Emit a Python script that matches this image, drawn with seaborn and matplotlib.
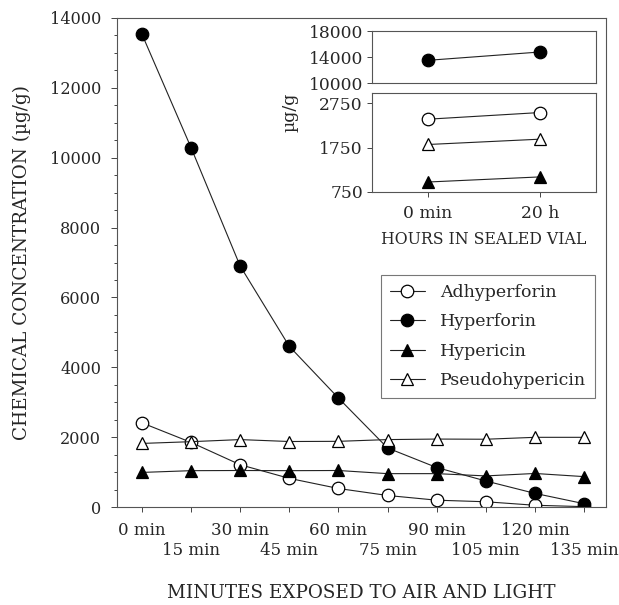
import matplotlib
matplotlib.use("Agg")
import matplotlib.pyplot as plt
import seaborn as sns
import pandas as pd
from matplotlib.ticker import MultipleLocator, FixedLocator, FixedFormatter

# main panel: minutes exposed to air and light
minutes = [0, 15, 30, 45, 60, 75, 90, 105, 120, 135]
minute_labels = ["0 min", "15 min", "30 min", "45 min", "60 min",
                 "75 min", "90 min", "105 min", "120 min", "135 min"]
adhyperforin = [2410, 1850, 1210, 820, 530, 330, 195, 150, 50, 10]
hyperforin = [13540, 10290, 6900, 4600, 3120, 1690, 1130, 745, 390, 95]
hypericin = [990, 1040, 1045, 1040, 1045, 955, 955, 890, 960, 870]
pseudohypericin = [1820, 1870, 1930, 1875, 1880, 1930, 1945, 1940, 1995, 1995]

# inset: hours in sealed vial
vial_labels = ["0 min", "20 h"]
vial_hyperforin = [13490, 14770]
vial_adhyperforin = [2390, 2540]
vial_pseudohypericin = [1820, 1940]
vial_hypericin = [975, 1090]

sns.set_theme(style="white")
plt.rcParams["font.family"] = ["DejaVu Serif"]
plt.rcParams["font.size"] = 12

W, H = 619, 605
fig = plt.figure(figsize=(W / 100, H / 100), dpi=100)
ax = fig.add_axes([117 / W, 1 - 507 / H, (606 - 117) / W, (507 - 18) / H])

styles = {
    "Adhyperforin": dict(marker="o", markerfacecolor="white"),
    "Hyperforin": dict(marker="o", markerfacecolor="black"),
    "Hypericin": dict(marker="^", markerfacecolor="black"),
    "Pseudohypericin": dict(marker="^", markerfacecolor="white"),
}
line_kw = dict(color="#222222", linewidth=0.8, markersize=9,
               markeredgecolor="black", markeredgewidth=0.9)
main_series = {
    "Adhyperforin": adhyperforin,
    "Hyperforin": hyperforin,
    "Hypericin": hypericin,
    "Pseudohypericin": pseudohypericin,
}
df = pd.DataFrame({"minutes": minutes, **main_series})

for name in main_series:
    sns.lineplot(data=df, x="minutes", y=name, ax=ax, label=name,
                 **line_kw, **styles[name])

ax.set_xlim(-7.6, 141.7)
ax.set_ylim(0, 14000)
# alternate x labels on two rows: even ones as major ticks, odd ones as minor
ax.xaxis.set_major_locator(FixedLocator(minutes[0::2]))
ax.xaxis.set_major_formatter(FixedFormatter(minute_labels[0::2]))
ax.xaxis.set_minor_locator(FixedLocator(minutes[1::2]))
ax.xaxis.set_minor_formatter(FixedFormatter(minute_labels[1::2]))
ax.yaxis.set_major_locator(MultipleLocator(2000))
ax.yaxis.set_minor_locator(MultipleLocator(500))
ax.tick_params(axis="both", which="both", direction="out", color="#444444",
               width=0.7)
ax.tick_params(axis="x", which="both", length=3.5, labelsize=12, bottom=True)
ax.tick_params(axis="x", which="major", pad=7)
ax.tick_params(axis="x", which="minor", pad=22)
ax.tick_params(axis="y", which="major", length=4.5, pad=7, labelsize=11.6,
               left=True)
ax.tick_params(axis="y", which="minor", length=2.5, left=True)
for sp in ax.spines.values():
    sp.set_color("#555555")
    sp.set_linewidth(0.8)
ax.set_xlabel("MINUTES EXPOSED TO AIR AND LIGHT", fontsize=13.2)
ax.set_ylabel("CHEMICAL CONCENTRATION (µg/g)", fontsize=13.2)
ax.xaxis.set_label_coords(0.5, -(593 - 507) / 489)
ax.xaxis.label.set_va("center")
ax.yaxis.set_label_coords(-(117 - 22) / 489, 0.5)
ax.yaxis.label.set_va("center")

leg = ax.legend(loc="upper right", bbox_to_anchor=(595 / W, 1 - 275 / H),
                bbox_transform=fig.transFigure, frameon=True, fancybox=False,
                handlelength=2.0, handletextpad=0.9, labelspacing=0.72,
                borderpad=0.5, borderaxespad=0, fontsize=12.5)
leg.get_frame().set_edgecolor("#555555")
leg.get_frame().set_linewidth(0.8)

# inset panels
ax_top = fig.add_axes([372 / W, 1 - 83 / H, 224 / W, 52 / H])
ax_bot = fig.add_axes([372 / W, 1 - 192 / H, 224 / W, 99 / H])
vial_x = [0, 1]

sns.lineplot(x=vial_x, y=vial_hyperforin, ax=ax_top,
             **line_kw, **styles["Hyperforin"])
for name, vals in [("Adhyperforin", vial_adhyperforin),
                   ("Pseudohypericin", vial_pseudohypericin),
                   ("Hypericin", vial_hypericin)]:
    sns.lineplot(x=vial_x, y=vals, ax=ax_bot, **line_kw, **styles[name])

ax_top.set_xlim(-0.5, 1.5)
ax_top.set_ylim(10000, 18000)
ax_top.set_yticks([10000, 14000, 18000])
ax_top.set_xticks([])
ax_bot.set_xlim(-0.5, 1.5)
ax_bot.set_ylim(750, 2980)
ax_bot.set_yticks([750, 1750, 2750])
ax_bot.set_xticks(vial_x)
ax_bot.set_xticklabels(vial_labels)
ax_bot.set_xlabel("HOURS IN SEALED VIAL", fontsize=11.3, labelpad=6)
for a in (ax_top, ax_bot):
    a.tick_params(axis="both", direction="out", color="#444444", width=0.7,
                  length=3.5, labelsize=12.3, pad=3, left=True, bottom=True)
    a.tick_params(axis="x", pad=6)
    for sp in a.spines.values():
        sp.set_color("#555555")
        sp.set_linewidth(0.8)
fig.text(290 / W, 1 - 112 / H, "µg/g", rotation=90, ha="center",
         va="center", fontsize=12.5)

fig.savefig("out.png", dpi=100)
